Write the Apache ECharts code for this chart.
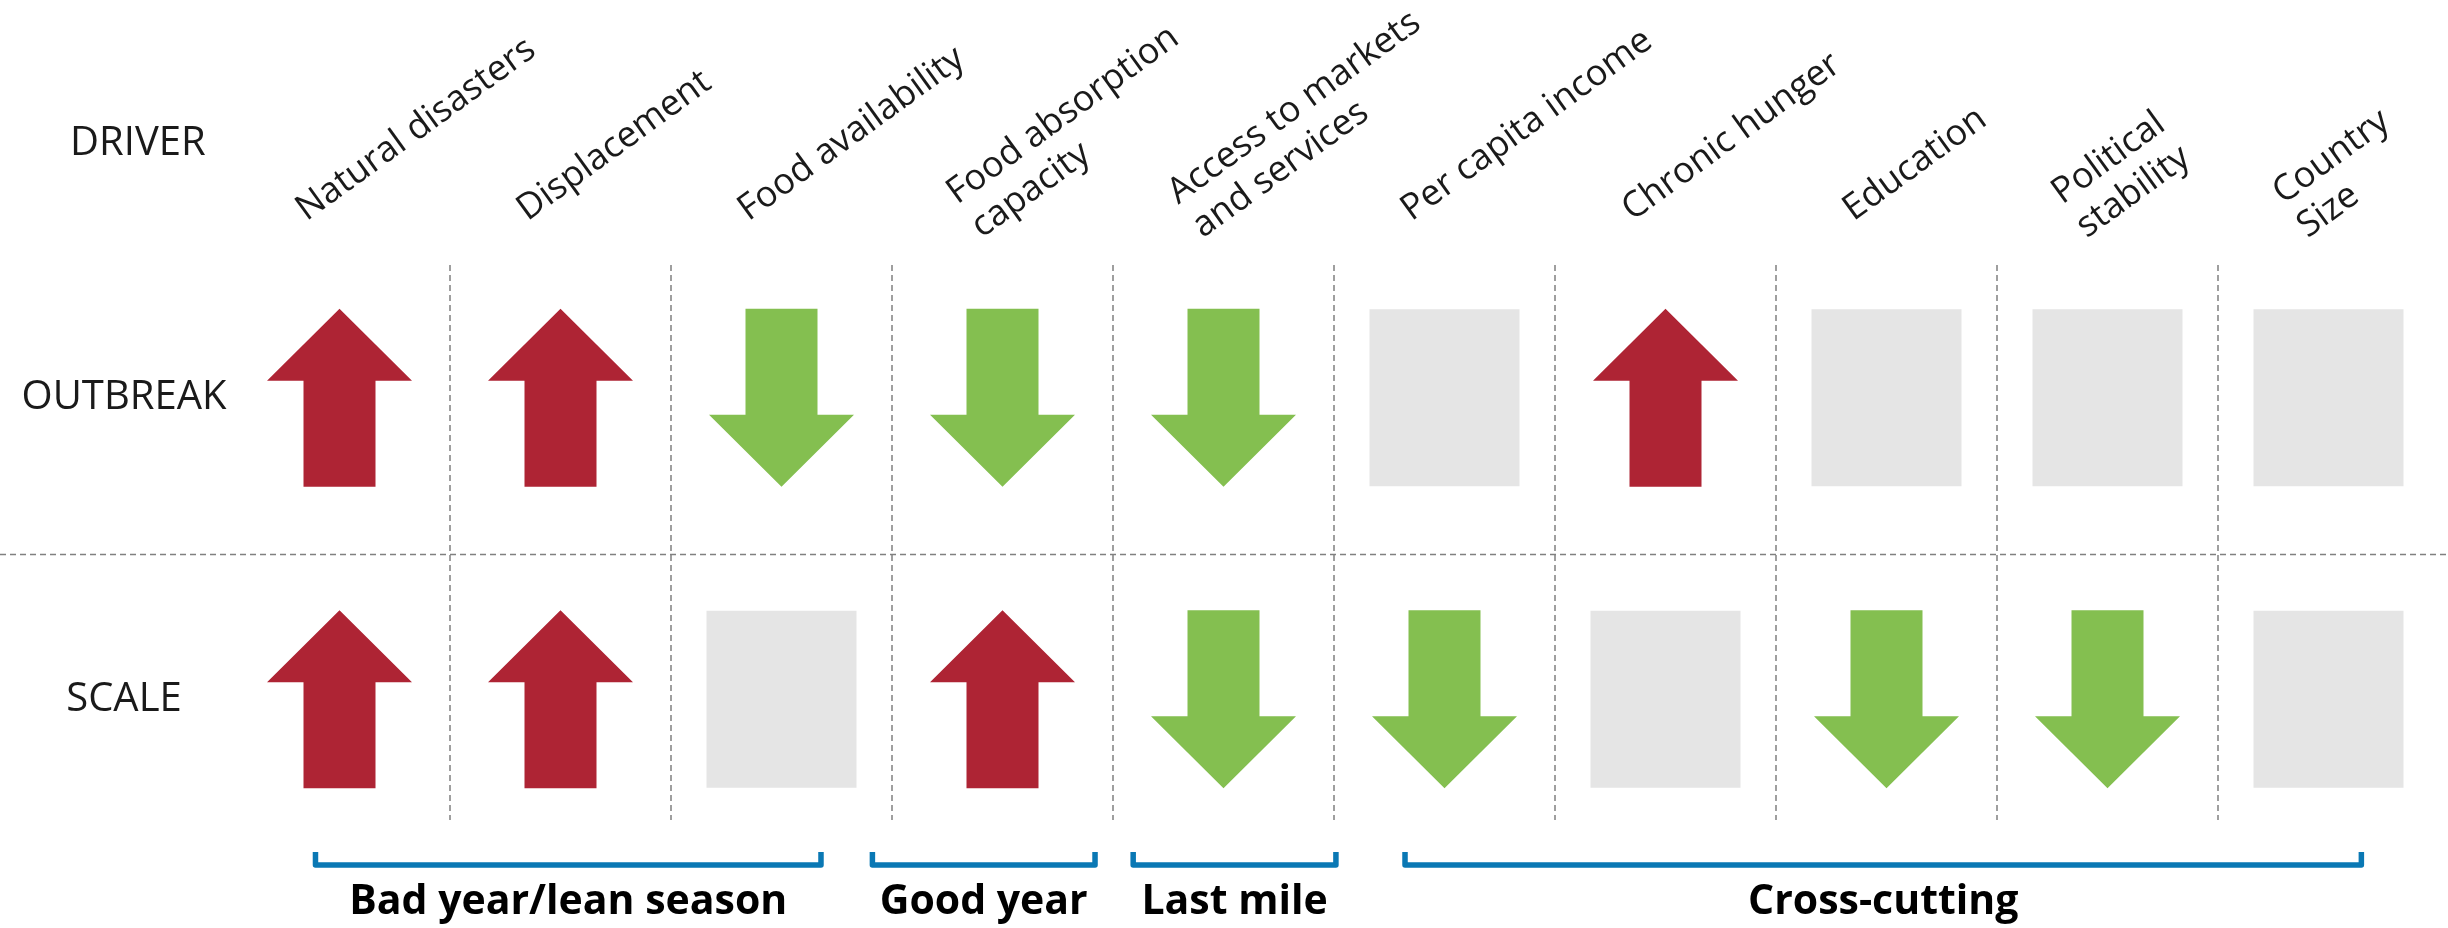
<!DOCTYPE html>
<html>
<head>
<meta charset="utf-8">
<script src="https://cdn.jsdelivr.net/npm/echarts@6/dist/echarts.min.js"></script>
<style>
html,body{margin:0;padding:0;background:#fff}
#c{width:2448px;height:928px}
</style>
</head>
<body>
<div id="c"></div>
<script>
// ---- data ----
const categories = ['Natural disasters', 'Displacement', 'Food availability', 'Food absorption\ncapacity',
  'Access to markets\nand services', 'Per capita income', 'Chronic hunger', 'Education',
  'Political\nstability', 'Country\nSize'];
const rows = ['OUTBREAK', 'SCALE'];
// +1 = increases risk (red up), -1 = decreases risk (green down), 0 = no effect (grey)
const outbreakEffect = [1, 1, -1, -1, -1, 0, 1, 0, 0, 0];
const scaleEffect = [1, 1, 0, 1, -1, -1, 0, -1, -1, 0];
const groupNames = ['Bad year/lean season', 'Good year', 'Last mile', 'Cross-cutting'];
const groupStart = [-0.12, 2.40, 3.58, 4.81];   // in column units
const groupEnd = [2.19, 3.43, 4.52, 9.16];

// ---- layout / style ----
const FONT = '"Open Sans", "Noto Sans", sans-serif';
const TEXT = '#1a1a1a';
const RED = '#AE2434';
const GREEN = '#84BF50';
const GREY = '#E5E5E5';
const BLUE = '#0A78B4';
const DASH = { color: '#808080', width: 1.5, type: [6, 4] };
const ROW_VALUE = { OUTBREAK: 7, SCALE: 2 };
const DIVIDER_VALUE = 4.4;

const effects = { OUTBREAK: outbreakEffect, SCALE: scaleEffect };
const cellData = [];
rows.forEach(r => {
  effects[r].forEach((e, c) => cellData.push([c, ROW_VALUE[r], e]));
});

function renderCell(params, api) {
  const p = api.coord([api.value(0), api.value(1)]);
  const e = api.value(2);
  const cx = p[0], cy = p[1];
  if (e === 0) {
    return { type: 'rect', shape: { x: cx - 75, y: cy - 88.5, width: 150, height: 177 }, style: { fill: GREY } };
  }
  const H = 178, HH = 72, HW = 72.5, SW = 36;
  let pts;
  if (e > 0) {
    const top = cy - H / 2, bot = cy + H / 2, base = top + HH;
    pts = [[cx, top], [cx + HW, base], [cx + SW, base], [cx + SW, bot], [cx - SW, bot], [cx - SW, base], [cx - HW, base]];
  } else {
    const top = cy - H / 2, bot = cy + H / 2, base = bot - HH;
    pts = [[cx, bot], [cx + HW, base], [cx + SW, base], [cx + SW, top], [cx - SW, top], [cx - SW, base], [cx - HW, base]];
  }
  return { type: 'polygon', shape: { points: pts }, style: { fill: e > 0 ? RED : GREEN } };
}

function renderBracket(params, api) {
  const i = params.dataIndex;
  const c0 = api.coord([0, 0])[0];
  const bw = api.size([1, 0])[0];
  const x1 = c0 + groupStart[i] * bw, x2 = c0 + groupEnd[i] * bw;
  const yb = params.coordSys.y + params.coordSys.height;
  const top = yb + 32, bar = yb + 45;
  return {
    type: 'group',
    children: [
      { type: 'polyline', shape: { points: [[x1 + 2.5, top], [x1 + 2.5, bar], [x2 - 2.5, bar], [x2 - 2.5, top]] },
        style: { stroke: BLUE, lineWidth: 5.5, fill: null, lineJoin: 'round', lineCap: 'butt' } },
      { type: 'text', style: { text: groupNames[i], x: (x1 + x2) / 2, y: yb + 82, align: 'center', verticalAlign: 'middle',
        font: 'bold 41px ' + FONT, fill: '#000' } }
    ]
  };
}

function renderDivider(params, api) {
  const y = api.coord([0, DIVIDER_VALUE])[1];
  return { type: 'line', shape: { x1: 0, y1: y, x2: api.getWidth(), y2: y },
    style: { stroke: DASH.color, lineWidth: DASH.width, lineDash: DASH.type } };
}

const chart = echarts.init(document.getElementById('c'), null, { renderer: 'canvas' });
chart.setOption({
  backgroundColor: '#fff',
  animation: false,
  title: { text: 'DRIVER', left: 70, top: 124, padding: 0,
    textStyle: { fontFamily: FONT, fontSize: 40, fontWeight: 'normal', color: TEXT, lineHeight: 40 } },
  grid: [
    { left: 229, right: 9, top: 265, bottom: 108 },
    { left: 190, right: 48, top: 265, bottom: 108 }
  ],
  xAxis: [
    { gridIndex: 0, type: 'category', data: categories, position: 'top',
      axisLine: { show: false }, axisTick: { show: false }, axisLabel: { show: false },
      splitLine: { show: true, interval: 0, showMinLine: false, showMaxLine: false, lineStyle: DASH } },
    { gridIndex: 1, type: 'category', data: categories, position: 'top',
      axisLine: { show: false }, axisTick: { show: false }, splitLine: { show: false },
      axisLabel: { interval: 0, rotate: 36, margin: 76, fontFamily: FONT, fontSize: 36, lineHeight: 42, color: TEXT } }
  ],
  yAxis: [
    { gridIndex: 0, type: 'value', min: 0, max: 9.2, interval: 1,
      axisLine: { show: false }, axisTick: { show: false }, splitLine: { show: false },
      axisLabel: { margin: 105, align: 'center', fontFamily: FONT, fontSize: 40, color: TEXT,
        formatter: v => { const r = rows.find(k => ROW_VALUE[k] === v); return r || ''; } } },
    { gridIndex: 1, type: 'value', min: 0, max: 9.2, show: false }
  ],
  series: [
    { type: 'custom', name: 'divider', xAxisIndex: 0, yAxisIndex: 0, data: [[0, DIVIDER_VALUE]],
      renderItem: renderDivider, silent: true, z: 1 },
    { type: 'custom', name: 'cells', xAxisIndex: 0, yAxisIndex: 0, data: cellData,
      encode: { x: 0, y: 1 }, renderItem: renderCell, z: 2 },
    { type: 'custom', name: 'groups', xAxisIndex: 0, yAxisIndex: 0, data: groupNames.map((n, i) => [i, 0]),
      renderItem: renderBracket, silent: true, z: 3 }
  ]
});
</script>
</body>
</html>
